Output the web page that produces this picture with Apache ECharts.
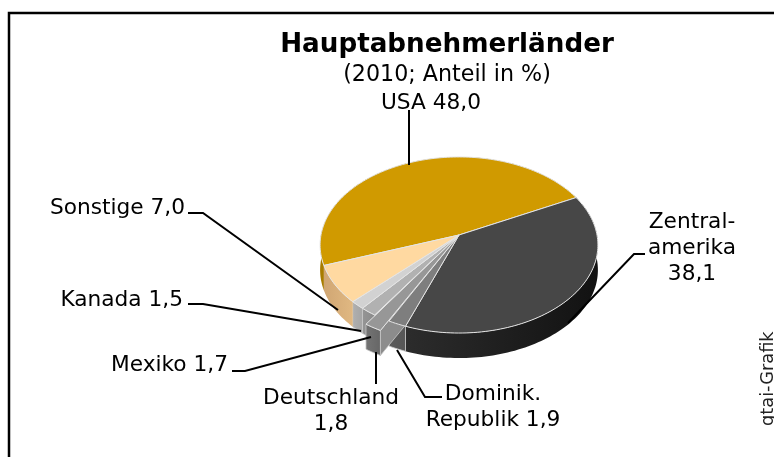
<!DOCTYPE html>
<html>
<head>
<meta charset="utf-8">
<script src="https://cdn.jsdelivr.net/npm/echarts@6/dist/echarts.min.js"></script>
<style>
  html, body { margin: 0; padding: 0; background: #fff; }
  #chart { width: 774px; height: 457px; }
</style>
</head>
<body>
<div id="chart"></div>
<script>
const categories = ['USA', 'Zentralamerika', 'Dominik. Republik', 'Deutschland', 'Mexiko', 'Kanada', 'Sonstige']
const shares = [48.0, 38.1, 1.9, 1.8, 1.7, 1.5, 7.0]
const sliceLabels = ['USA 48,0', 'Zentral-\namerika\n38,1', 'Dominik.\nRepublik 1,9', 'Deutschland\n1,8', 'Mexiko 1,7', 'Kanada 1,5', 'Sonstige 7,0']
const pulledOut = [0, 0, 0, 0.1, 0, 0, 0]
const topColors = ['#D09A00', '#474747', '#7E7E7E', '#979797', '#B1B1B1', '#D2D2D2', '#FFD9A1']
const wallColors = [['#A87C00', '#A87C00'], ['#2C2C2C', '#121212'], ['#5C5C5C', '#565656'], ['#747474', '#666666'], ['#959595', '#8A8A8A'], ['#B0B0B0', '#A4A4A4'], ['#D0A673', '#E0B882']]

// die Torte ist perspektivisch: Kreis wird auf Ellipse abgebildet
const centerX = 459
const centerY = 235
const scaleX = 138
const scaleY = 86.9
const tilt = 0.1136
const depth = 25
const startDeg = -199.7

function project (u, s) {
  const f = 1 - tilt * s
  return [centerX + scaleX * u / f, centerY + scaleY * s / f]
}

function renderSlice (params, api) {
  const i = params.dataIndex
  let before = 0
  for (let k = 0; k < i; k++) before += shares[k]
  const a0 = (startDeg + before * 3.6) * Math.PI / 180
  const a1 = a0 + api.value(0) * 3.6 * Math.PI / 180
  const mid = (a0 + a1) / 2
  const dx = Math.cos(mid) * pulledOut[i]
  const dy = Math.sin(mid) * pulledOut[i]
  const arc = []
  const steps = Math.max(4, Math.round((a1 - a0) * 40))
  for (let k = 0; k <= steps; k++) {
    const a = a0 + (a1 - a0) * k / steps
    arc.push(project(Math.cos(a) + dx, Math.sin(a) + dy))
  }
  const apex = project(0, 0)
  const down = p => [p[0], p[1] + depth]
  const small = shares[i] < 5
  const pulled = pulledOut[i] > 0
  const edge = '#E4E4E4'
  const children = [{
    type: 'polygon',
    z2: pulled ? 2 : 1,
    shape: { points: arc.concat(arc.map(down).reverse()) },
    style: {
      fill: new echarts.graphic.LinearGradient(0, 0, 1, 0, [
        { offset: 0, color: wallColors[i][0] },
        { offset: 1, color: wallColors[i][1] }
      ]),
      stroke: small ? '#C8C8C8' : null,
      lineWidth: small ? 0.8 : 0
    }
  }]
  if (pulled) {
    children.push({
      type: 'polygon',
      z2: 3,
      shape: { points: [arc[0], apex, down(apex), down(arc[0])] },
      style: { fill: '#8C8C8C', stroke: '#C8C8C8', lineWidth: 0.8 }
    })
  }
  children.push({
    type: 'polygon',
    z2: pulled ? 6 : 5,
    shape: { points: [apex].concat(arc) },
    style: { fill: topColors[i], stroke: edge, lineWidth: 1 }
  })
  return { type: 'group', children }
}

function leader (points) {
  return {
    type: 'polyline',
    z: 10,
    shape: { points },
    style: { stroke: '#000', lineWidth: 2, fill: null }
  }
}

function label (text, x, y, align) {
  return {
    type: 'text',
    z: 11,
    x,
    y,
    style: {
      text,
      align,
      verticalAlign: 'top',
      fill: '#000',
      font: '21.7px "DejaVu Sans"',
      lineHeight: 26
    }
  }
}

const chart = echarts.init(document.getElementById('chart'))
chart.setOption({
  animation: false,
  tooltip: { show: false },
  title: {
    text: 'Hauptabnehmerländer',
    subtext: '(2010; Anteil in %)',
    left: 442,
    top: 27,
    textAlign: 'center',
    itemGap: 6,
    textStyle: { fontFamily: 'DejaVu Sans', fontSize: 26.2, fontWeight: 'bold', color: '#000' },
    subtextStyle: { fontFamily: 'DejaVu Sans', fontSize: 22.2, color: '#000' }
  },
  series: [{
    type: 'custom',
    coordinateSystem: 'none',
    silent: true,
    renderItem: renderSlice,
    data: shares.map((v, i) => ({ name: categories[i], value: [v] }))
  }],
  graphic: [
    { type: 'polyline', z: 9, shape: { points: [[9, 457], [9, 13], [774, 13]] }, style: { stroke: '#000', lineWidth: 2.5, fill: null } },
    leader([[409, 110], [409, 165]]),
    leader([[645, 254], [634, 254], [568, 323]]),
    leader([[442, 397], [425, 397], [397, 350]]),
    leader([[376, 352], [376, 384]]),
    leader([[232, 371], [245, 371], [371, 337]]),
    leader([[188, 304], [203, 304], [361, 331]]),
    leader([[188, 213], [203, 213], [338, 310]]),
    label(sliceLabels[0], 431, 90, 'center'),
    label(sliceLabels[1], 692, 209, 'center'),
    label(sliceLabels[2], 493, 381, 'center'),
    label(sliceLabels[3], 331, 385, 'center'),
    label(sliceLabels[4], 228, 352, 'right'),
    label(sliceLabels[5], 183, 287, 'right'),
    label(sliceLabels[6], 185, 195, 'right'),
    {
      type: 'text',
      z: 11,
      x: 759,
      y: 426,
      rotation: Math.PI / 2,
      style: { text: 'gtai-Grafik', fill: '#222', font: '17.8px "DejaVu Sans"', align: 'left', verticalAlign: 'top' }
    }
  ]
})
</script>
</body>
</html>
